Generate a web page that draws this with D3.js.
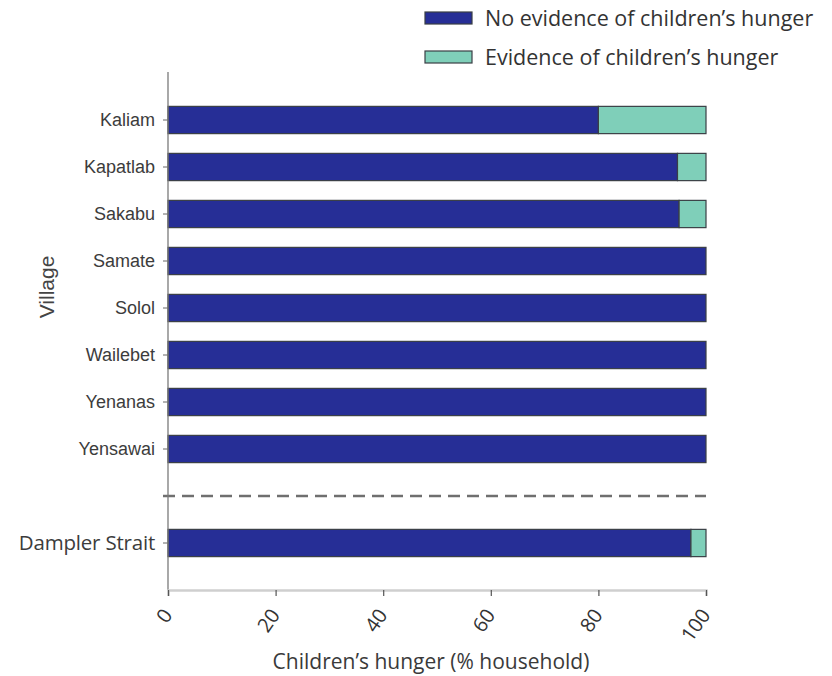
<!DOCTYPE html>
<html><head><meta charset="utf-8">
<script src="https://cdn.jsdelivr.net/npm/d3@7"></script>
<style>
body{margin:0;background:#fff;}
svg{display:block;}
</style></head>
<body>
<svg id="chart" width="832" height="676"></svg>
<script>
const villages = ["Kaliam","Kapatlab","Sakabu","Samate","Solol","Wailebet","Yenanas","Yensawai"];
const summaryLabel = "Dampler Strait";
const noEvidence = [80, 94.7, 95, 100, 100, 100, 100, 100];
const evidence   = [20, 5.3, 5, 0, 0, 0, 0, 0];
const summaryNoEvidence = 97.2;
const summaryEvidence = 2.8;
const xTicks = [0, 20, 40, 60, 80, 100];
const seriesNames = ["No evidence of children\u2019s hunger", "Evidence of children\u2019s hunger"];
const xTitle = "Children\u2019s hunger (% household)";
const yTitle = "Village";

const colors = ["#262e96", "#7fcfb9"];
const svg = d3.select("#chart");

const rows = villages.map((v,i)=>({name:v, vals:[noEvidence[i], evidence[i]]}));
rows.push({name:summaryLabel, vals:[summaryNoEvidence, summaryEvidence], summary:true});
const sepKey = "__separator__";
const domain = villages.concat([sepKey, summaryLabel]);

const x = d3.scaleLinear().domain([0,100]).range([168, 706]);
const y = d3.scaleBand().domain(domain).range([96.5, 566.5]).paddingInner(0.42).paddingOuter(0.21);

// bars
const stack = d3.stack().keys([0,1]).value((d,k)=>d.vals[k]);
const stacked = stack(rows);
stacked.forEach((layer, li)=>{
  svg.append("g").selectAll("rect").data(layer).join("rect")
    .attr("x", d=>x(d[0]))
    .attr("y", d=>y(d.data.name))
    .attr("width", d=>Math.max(0, x(d[1])-x(d[0])))
    .attr("height", y.bandwidth())
    .attr("fill", colors[li])
    .attr("stroke", d=> (d[1]-d[0])>0 ? "#3a3f45" : "none")
    .attr("stroke-width", 1.2);
});

// separator dashed line
const sepY = y(sepKey) + y.bandwidth()/2;
svg.append("line").attr("x1", 163).attr("x2", 706).attr("y1", sepY).attr("y2", sepY)
  .attr("stroke", "#6f6f6f").attr("stroke-width", 2.5).attr("stroke-dasharray", "12,7");

// y axis
const yAxis = svg.append("g").attr("transform", "translate(168,0)")
  .call(d3.axisLeft(y).tickSize(5).tickPadding(8).tickFormat(d=>d));
yAxis.select(".domain").remove();
yAxis.selectAll(".tick").filter(d=>d===sepKey).remove();
yAxis.selectAll(".tick line").attr("stroke", "#666");
yAxis.selectAll(".tick text")
  .attr("fill", "#3c3c3c")
  .style("font-family", d=> d===summaryLabel ? "'Open Sans', sans-serif" : "'Liberation Sans', Arial, sans-serif")
  .style("font-size", d=> d===summaryLabel ? "20.5px" : "18px")
  .style("letter-spacing", d=> d===summaryLabel ? "-0.2px" : "0px");
svg.append("line").attr("x1",168).attr("x2",168).attr("y1",72).attr("y2",590)
  .attr("stroke","#7a7a7a").attr("stroke-width",1.3);

// x axis
const xAxis = svg.append("g").attr("transform", "translate(0,590)")
  .call(d3.axisBottom(x).tickValues(xTicks).tickSize(6).tickPadding(4).tickFormat(d3.format("d")));
xAxis.select(".domain").attr("stroke", "#cfcfcf").attr("stroke-width", 2.5);
xAxis.selectAll(".tick line").attr("stroke", "#555").attr("stroke-width", 1.2);
xAxis.selectAll(".tick text")
  .attr("fill", "#333")
  .style("font-family", "'Open Sans', sans-serif")
  .style("font-size", "20px")
  .attr("text-anchor", "end")
  .attr("x", 0).attr("y", 0)
  .attr("dy", "0.35em")
  .attr("transform", "translate(-1,21) rotate(-55)");

// x title
svg.append("text").attr("x", 431).attr("y", 669).attr("text-anchor","middle")
  .attr("fill","#3a3a3a").style("font-family","'Open Sans', sans-serif").style("font-size","21px")
  .text(xTitle);

// y title
svg.append("text").attr("transform","translate(54,287) rotate(-90)").attr("text-anchor","middle")
  .attr("fill","#444").style("font-family","'Liberation Sans', Arial, sans-serif").style("font-size","21px")
  .text(yTitle);

// legend
const legend = svg.append("g");
seriesNames.forEach((name,i)=>{
  const ly = 12 + i*39;
  legend.append("rect").attr("x",425).attr("y",ly).attr("width",47).attr("height",12)
    .attr("fill",colors[i]).attr("stroke","#3a3f45").attr("stroke-width",1.2);
  legend.append("text").attr("x",485).attr("y",ly+14).attr("fill","#333")
    .style("font-family","'Open Sans', sans-serif").style("font-size","21.5px")
    .text(name);
});
</script>
</body></html>
